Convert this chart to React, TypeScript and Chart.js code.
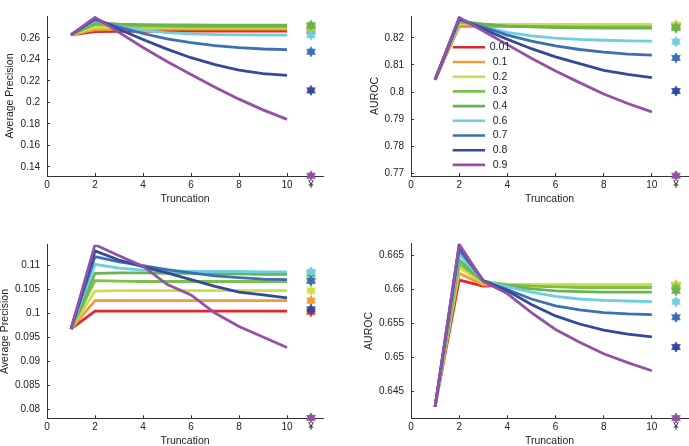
import React, { useEffect, useRef } from "react";
import { Chart, registerables } from "chart.js";

Chart.register(...registerables);

// ---------------- DATA ----------------
const SERIES = ["0.01", "0.1", "0.2", "0.3", "0.4", "0.6", "0.7", "0.8", "0.9"];
const TRUNCATION = [1, 2, 3, 4, 5, 6, 7, 8, 9, 10];
const X_TICKS = [0, 2, 4, 6, 8, 10, 11];
const INF_POSITION = 11;
const INF_LABEL = "¥";

// Top-left: Average Precision
const AP_TOP = [
  [0.2628, 0.2657, 0.266, 0.2661, 0.2662, 0.2662, 0.2662, 0.2662, 0.2662, 0.2662],
  [0.2628, 0.2675, 0.2679, 0.268, 0.268, 0.268, 0.268, 0.268, 0.268, 0.268],
  [0.2628, 0.27, 0.2698, 0.2696, 0.2695, 0.2695, 0.2695, 0.2695, 0.2695, 0.2695],
  [0.2628, 0.2725, 0.2712, 0.2708, 0.2706, 0.2705, 0.2705, 0.2705, 0.2705, 0.2705],
  [0.2628, 0.274, 0.2728, 0.2722, 0.272, 0.2719, 0.2718, 0.2718, 0.2718, 0.2718],
  [0.2628, 0.276, 0.2705, 0.267, 0.2648, 0.2636, 0.263, 0.2627, 0.2626, 0.2625],
  [0.2628, 0.277, 0.27, 0.264, 0.259, 0.2555, 0.2528, 0.2508, 0.2496, 0.249],
  [0.2628, 0.278, 0.268, 0.2585, 0.2495, 0.2415, 0.235, 0.23, 0.2268, 0.2251],
  [0.2628, 0.279, 0.265, 0.251, 0.238, 0.226, 0.214, 0.203, 0.193, 0.1842],
];
const AP_TOP_INF = [0.2662, 0.268, 0.2695, 0.2706, 0.2718, 0.2625, 0.2471, 0.2112, 0.1318];
const AP_TOP_TICKS = [0.14, 0.16, 0.18, 0.2, 0.22, 0.24, 0.26];

// Top-right: AUROC
const AUC_TOP = [
  [0.8046, 0.8244, 0.8243, 0.8243, 0.8243, 0.8243, 0.8243, 0.8243, 0.8243, 0.8243],
  [0.8046, 0.8247, 0.8246, 0.8245, 0.8245, 0.8245, 0.8245, 0.8245, 0.8245, 0.8245],
  [0.8046, 0.8252, 0.825, 0.8249, 0.8249, 0.8249, 0.8249, 0.8249, 0.8249, 0.8249],
  [0.8046, 0.8258, 0.8248, 0.8244, 0.8242, 0.8241, 0.824, 0.824, 0.824, 0.824],
  [0.8046, 0.8262, 0.825, 0.8243, 0.824, 0.8238, 0.8237, 0.8236, 0.8236, 0.8236],
  [0.8046, 0.8265, 0.824, 0.822, 0.8207, 0.8199, 0.8194, 0.8191, 0.8189, 0.8188],
  [0.8046, 0.8268, 0.824, 0.821, 0.8188, 0.817, 0.8157, 0.8147, 0.814, 0.8136],
  [0.8046, 0.827, 0.8232, 0.8195, 0.816, 0.813, 0.8105, 0.808, 0.8065, 0.8053],
  [0.8046, 0.8275, 0.8225, 0.8175, 0.8125, 0.8078, 0.8035, 0.7993, 0.7958, 0.7927],
];
const AUC_TOP_INF = [0.8243, 0.8245, 0.8249, 0.824, 0.8236, 0.8186, 0.8126, 0.8004, 0.7692];
const AUC_TOP_TICKS = [0.77, 0.78, 0.79, 0.8, 0.81, 0.82];

// Bottom-left: Average Precision
const AP_BOTTOM = [
  [0.0968, 0.1005, 0.1005, 0.1005, 0.1005, 0.1005, 0.1005, 0.1005, 0.1005, 0.1005],
  [0.0968, 0.1027, 0.1027, 0.1027, 0.1027, 0.1027, 0.1027, 0.1027, 0.1027, 0.1027],
  [0.0968, 0.1047, 0.1048, 0.1048, 0.1048, 0.1048, 0.1048, 0.1048, 0.1048, 0.1048],
  [0.0968, 0.1069, 0.1068, 0.1067, 0.1067, 0.1067, 0.1067, 0.1067, 0.1067, 0.1067],
  [0.0968, 0.1084, 0.1085, 0.1085, 0.1084, 0.1084, 0.1083, 0.1083, 0.1082, 0.1082],
  [0.0968, 0.1103, 0.1095, 0.1091, 0.1089, 0.1088, 0.1088, 0.1088, 0.1087, 0.1087],
  [0.0968, 0.1119, 0.1108, 0.11, 0.1092, 0.1085, 0.1079, 0.1075, 0.1072, 0.1071],
  [0.0968, 0.1131, 0.1112, 0.1098, 0.1085, 0.1071, 0.1057, 0.1045, 0.1039, 0.1033],
  [0.0968, 0.1144, 0.1121, 0.1099, 0.1061, 0.1039, 0.1001, 0.0973, 0.0951, 0.0929],
];
const AP_BOTTOM_INF = [0.1004, 0.1027, 0.1048, 0.1068, 0.1083, 0.10875, 0.1069, 0.1009, 0.0782];
const AP_BOTTOM_TICKS = [0.08, 0.085, 0.09, 0.095, 0.1, 0.105, 0.11];

// Bottom-right: AUROC
const AUC_BOTTOM = [
  [0.6427, 0.6614, 0.6605, 0.6606, 0.6606, 0.6606, 0.6606, 0.6606, 0.6606, 0.6606],
  [0.6427, 0.6624, 0.6607, 0.6607, 0.6607, 0.6607, 0.6607, 0.6607, 0.6607, 0.6607],
  [0.6427, 0.6632, 0.661, 0.6608, 0.6607, 0.6607, 0.6607, 0.6607, 0.6607, 0.6607],
  [0.6427, 0.6638, 0.6612, 0.6607, 0.6605, 0.6604, 0.6603, 0.6603, 0.6603, 0.6603],
  [0.6427, 0.6644, 0.6612, 0.6605, 0.6601, 0.6598, 0.6597, 0.6596, 0.6596, 0.6596],
  [0.6427, 0.6652, 0.6613, 0.6604, 0.6596, 0.659, 0.6586, 0.6584, 0.6583, 0.6582],
  [0.6427, 0.6659, 0.6613, 0.66, 0.6586, 0.6576, 0.657, 0.6566, 0.6564, 0.6563],
  [0.6427, 0.6665, 0.6613, 0.6598, 0.6578, 0.6561, 0.6549, 0.654, 0.6534, 0.653],
  [0.6427, 0.6667, 0.6612, 0.6594, 0.6566, 0.6541, 0.6522, 0.6505, 0.6492, 0.648],
];
const AUC_BOTTOM_INF = [0.6606, 0.6607, 0.6607, 0.6603, 0.6598, 0.6582, 0.6559, 0.6515, 0.641];
const AUC_BOTTOM_TICKS = [0.645, 0.65, 0.655, 0.66, 0.665];

// ---------------- STYLE ----------------
const COLORS = [
  "#e3262b",
  "#f39a3a",
  "#cfdd47",
  "#7cc04a",
  "#69b352",
  "#6ecfe0",
  "#3c6fb6",
  "#334a9a",
  "#9452a4",
];
const W = 689;
const H = 446;
const FONT = "'Liberation Sans', Arial, Helvetica, sans-serif";
const TEXT = "#222";
const AXIS = "#333";

type Box = { left: number; top: number; right: number; bottom: number };
type PanelDef = {
  values: number[][];
  inf: number[];
  yTicks: number[];
  yMin: number;
  yMax: number;
  yTitle: string;
  box: Box;
  yAxisW: number;
  legend?: boolean;
};

const PANELS: PanelDef[] = [
  {
    values: AP_TOP, inf: AP_TOP_INF, yTicks: AP_TOP_TICKS, yMin: 0.13155, yMax: 0.28028,
    yTitle: "Average Precision", box: { left: 47, top: 0, right: 323, bottom: 176 }, yAxisW: 42,
  },
  {
    values: AUC_TOP, inf: AUC_TOP_INF, yTicks: AUC_TOP_TICKS, yMin: 0.7691, yMax: 0.82804,
    yTitle: "AUROC", box: { left: 411, top: 0, right: 688, bottom: 176 }, yAxisW: 41, legend: true,
  },
  {
    values: AP_BOTTOM, inf: AP_BOTTOM_INF, yTicks: AP_BOTTOM_TICKS, yMin: 0.0781, yMax: 0.1144,
    yTitle: "Average Precision", box: { left: 47, top: 244.7, right: 323, bottom: 418.3 }, yAxisW: 47,
  },
  {
    values: AUC_BOTTOM, inf: AUC_BOTTOM_INF, yTicks: AUC_BOTTOM_TICKS, yMin: 0.64097, yMax: 0.66677,
    yTitle: "AUROC", box: { left: 411, top: 243.7, right: 688, bottom: 418.3 }, yAxisW: 47,
  },
];

function fmt(v: number): string {
  return String(Number(v.toFixed(4)));
}

function hexagram(color: string, r: number): HTMLCanvasElement {
  const c = document.createElement("canvas");
  const s = Math.ceil(2 * r + 2);
  c.width = s;
  c.height = s;
  const ctx = c.getContext("2d")!;
  const cx = s / 2;
  const cy = s / 2;
  ctx.fillStyle = color;
  ctx.strokeStyle = color;
  ctx.lineWidth = 0.8;
  for (const start of [-90, 90]) {
    ctx.beginPath();
    for (let k = 0; k < 3; k++) {
      const a = ((start + k * 120) * Math.PI) / 180;
      const x = cx + r * Math.cos(a);
      const y = cy + r * Math.sin(a);
      if (k === 0) ctx.moveTo(x, y);
      else ctx.lineTo(x, y);
    }
    ctx.closePath();
    ctx.fill();
    ctx.stroke();
  }
  return c;
}

const legendPlugin = {
  id: "seriesLegend",
  afterDraw(chart: any) {
    const ctx = chart.ctx as CanvasRenderingContext2D;
    ctx.save();
    const x0 = 452.7;
    const x1 = 485;
    const tx = 500;
    const y0 = 47.3;
    const dy = 14.7;
    SERIES.forEach((label, i) => {
      const y = y0 + i * dy;
      ctx.strokeStyle = COLORS[i];
      ctx.lineWidth = 2.6;
      ctx.beginPath();
      ctx.moveTo(x0, y);
      ctx.lineTo(x1, y);
      ctx.stroke();
      ctx.fillStyle = TEXT;
      ctx.font = `10.5px ${FONT}`;
      ctx.textAlign = "center";
      ctx.textBaseline = "middle";
      ctx.fillText(label, tx, y);
    });
    ctx.restore();
  },
};

function Panel({ def }: { def: PanelDef }) {
  const ref = useRef<HTMLCanvasElement | null>(null);
  useEffect(() => {
    if (!ref.current) return;
    const xH = Math.min(28, H - def.box.bottom);
    const datasets: any[] = [];
    SERIES.forEach((label, i) => {
      datasets.push({
        label,
        data: TRUNCATION.map((t, j) => ({ x: t, y: def.values[i][j] })),
        borderColor: COLORS[i],
        backgroundColor: COLORS[i],
        borderWidth: 2.8,
        pointRadius: 0,
        tension: 0,
        fill: false,
        order: 50 - i,
      });
    });
    SERIES.forEach((label, i) => {
      datasets.push({
        label: label + " ∞",
        data: [{ x: INF_POSITION, y: def.inf[i] }],
        showLine: false,
        borderColor: COLORS[i],
        backgroundColor: COLORS[i],
        pointStyle: hexagram(COLORS[i], 5),
        pointRadius: 5,
        clip: false,
        order: 10 - i,
      });
    });
    const grid = {
      display: true,
      drawOnChartArea: false,
      drawTicks: true,
      tickLength: -3,
      color: AXIS,
      lineWidth: 1,
    };
    const chart = new Chart(ref.current, {
      type: "line",
      data: { datasets },
      plugins: def.legend ? [legendPlugin] : [],
      options: {
        animation: false,
        responsive: false,
        devicePixelRatio: 1,
        events: [],
        layout: {
          autoPadding: false,
          padding: {
            left: def.box.left - def.yAxisW,
            top: def.box.top,
            right: W - def.box.right,
            bottom: H - def.box.bottom - xH,
          },
        },
        plugins: {
          legend: { display: false },
          tooltip: { enabled: false },
          title: { display: false },
        },
        scales: {
          x: {
            type: "linear",
            min: 0,
            max: 11.5,
            afterBuildTicks: (s: any) => {
              s.ticks = X_TICKS.map((v) => ({ value: v }));
            },
            afterFit: (s: any) => {
              s.height = xH;
            },
            ticks: {
              autoSkip: false,
              maxRotation: 0,
              padding: 6,
              color: TEXT,
              font: { family: FONT, size: 10 },
              callback: (v: any) => (Number(v) === INF_POSITION ? INF_LABEL : String(v)),
            },
            grid,
            border: { display: true, color: AXIS, width: 1 },
            title: {
              display: true,
              text: "Truncation",
              color: TEXT,
              padding: 0,
              font: { family: FONT, size: 10.5, lineHeight: 1 },
            },
          },
          y: {
            type: "linear",
            min: def.yMin,
            max: def.yMax,
            afterBuildTicks: (s: any) => {
              s.ticks = def.yTicks.map((v) => ({ value: v }));
            },
            afterFit: (s: any) => {
              s.width = def.yAxisW;
            },
            ticks: {
              autoSkip: false,
              padding: 10,
              color: TEXT,
              font: { family: FONT, size: 10 },
              callback: (v: any) => fmt(Number(v)),
            },
            grid,
            border: { display: true, color: AXIS, width: 1 },
            title: {
              display: true,
              text: def.yTitle,
              color: TEXT,
              padding: 0,
              font: { family: FONT, size: 10.5, lineHeight: 1 },
            },
          },
        },
      } as any,
    });
    return () => chart.destroy();
  }, [def]);
  return (
    <canvas
      ref={ref}
      width={W}
      height={H}
      style={{ position: "absolute", left: 0, top: 0, width: W, height: H }}
    />
  );
}

export default function App() {
  return (
    <div
      style={{
        position: "fixed",
        left: 0,
        top: 0,
        width: W,
        height: H,
        overflow: "hidden",
        background: "#fff",
      }}
    >
      {PANELS.map((p, i) => (
        <Panel key={i} def={p} />
      ))}
    </div>
  );
}
